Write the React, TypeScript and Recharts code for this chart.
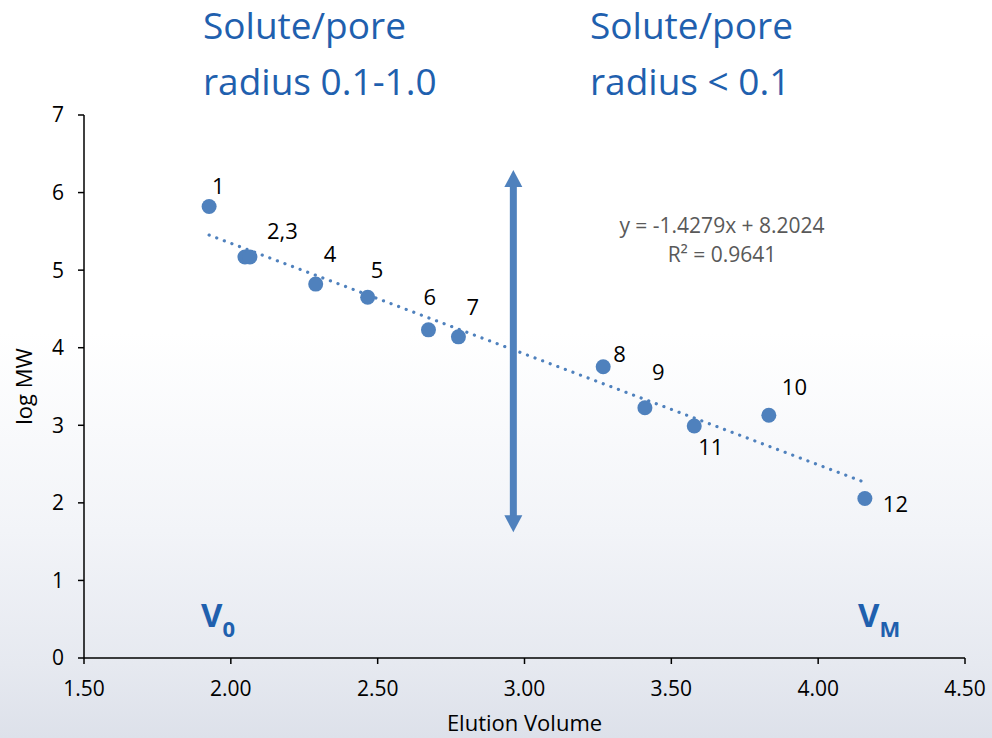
import React from 'react';
import { ScatterChart, Scatter, XAxis, YAxis, ReferenceLine } from 'recharts';

// ---- data ----
const elutionVolume = [1.926, 2.048, 2.065, 2.289, 2.466, 2.673, 2.775, 3.268, 3.41, 3.832, 3.578, 4.159];
const logMW = [5.82, 5.17, 5.17, 4.82, 4.65, 4.23, 4.14, 3.755, 3.226, 3.13, 2.99, 2.057];
const pointLabels = ['1', '', '2,3', '4', '5', '6', '7', '8', '9', '10', '11', '12'];
const xTicks = [1.5, 2.0, 2.5, 3.0, 3.5, 4.0, 4.5];
const yTicks = [0, 1, 2, 3, 4, 5, 6, 7];
const trendSlope = -1.4279;
const trendIntercept = 8.2024;
const trendR2 = 0.9641;
const arrowX = 2.962;
const arrowYBottom = 1.62;
const arrowYTop = 6.29;

// ---- layout config (not data) ----
const labelOffsets: Record<string, [number, number]> = {
  '1': [3, -13],
  '2,3': [17, -18],
  '4': [8, -22],
  '5': [3, -19],
  '6': [-5, -25],
  '7': [8, -22],
  '8': [10, -5],
  '9': [7, -28],
  '10': [13, -20],
  '11': [4, 29],
  '12': [18, 14],
};

const FONT = '"Open Sans", "Noto Sans", sans-serif';
const BLUE = '#4f81bd';
const TITLE_BLUE = '#1f60ae';

const points = elutionVolume.map((x, i) => ({ x, y: logMW[i], label: pointLabels[i] }));
const xMin = Math.min(...elutionVolume);
const xMax = Math.max(...elutionVolume);
const trendSegment = [
  { x: xMin, y: trendSlope * xMin + trendIntercept },
  { x: xMax, y: trendSlope * xMax + trendIntercept },
];

const PointShape = (props: any) => {
  const { cx, cy, payload } = props;
  const lab = payload?.label;
  const off = lab ? labelOffsets[lab] : null;
  return (
    <g>
      <circle cx={cx} cy={cy} r={7.5} fill={BLUE} />
      {lab && off ? (
        <text x={cx + off[0]} y={cy + off[1]} fontSize={22} fontFamily={FONT} fill="#000">
          {lab}
        </text>
      ) : null}
    </g>
  );
};

const ArrowShape = (props: any) => {
  const { x1, y1, x2, y2 } = props;
  const x = x1;
  const top = Math.min(y1, y2);
  const bot = Math.max(y1, y2);
  const head = 17;
  const half = 9;
  return (
    <g>
      <line x1={x} y1={top + head - 1} x2={x} y2={bot - head + 1} stroke={BLUE} strokeWidth={7} />
      <polygon points={`${x},${top} ${x - half},${top + head} ${x + half},${top + head}`} fill={BLUE} />
      <polygon points={`${x},${bot} ${x - half},${bot - head} ${x + half},${bot - head}`} fill={BLUE} />
    </g>
  );
};

const YLabel = (props: any) => {
  const vb = props.viewBox || {};
  const cy = (vb.y ?? 0) + (vb.height ?? 0) / 2;
  const cx = 32;
  return (
    <text x={cx} y={cy} transform={`rotate(-90, ${cx}, ${cy})`} textAnchor="middle" fontSize={22} fontFamily={FONT} fill="#000">
      log MW
    </text>
  );
};

export default function App() {
  return (
    <div
      style={{
        position: 'fixed',
        left: 0,
        top: 0,
        width: 992,
        height: 738,
        overflow: 'hidden',
        background: 'linear-gradient(to bottom, #ffffff 0%, #ffffff 45%, #f2f4f8 72%, #e6e9f0 90%, #dde1ea 100%)',
        fontFamily: FONT,
      }}
    >
      <ScatterChart width={992} height={738} margin={{ top: 115, right: 27, bottom: 0, left: 0 }}>
        <XAxis
          type="number"
          dataKey="x"
          domain={[1.5, 4.5]}
          ticks={xTicks}
          tickFormatter={(v: number) => v.toFixed(2)}
          tickSize={6}
          tickMargin={17}
          height={80}
          axisLine={{ stroke: '#000', strokeWidth: 1.5 }}
          tickLine={{ stroke: '#000', strokeWidth: 1.5 }}
          tick={{ fontSize: 21, fontFamily: FONT, fill: '#000' }}
          allowDataOverflow
          label={{ value: 'Elution Volume', position: 'insideBottom', offset: 7, fontSize: 22, fontFamily: FONT, fill: '#000' }}
        />
        <YAxis
          type="number"
          dataKey="y"
          domain={[0, 7]}
          ticks={yTicks}
          tickSize={6}
          tickMargin={14}
          width={84}
          axisLine={{ stroke: '#000', strokeWidth: 1.5 }}
          tickLine={{ stroke: '#000', strokeWidth: 1.5 }}
          tick={{ fontSize: 21, fontFamily: FONT, fill: '#000' }}
          allowDataOverflow
          label={<YLabel />}
        />
        <ReferenceLine
          segment={trendSegment}
          stroke={BLUE}
          strokeWidth={3.2}
          strokeDasharray="0.1 8"
          strokeLinecap="round"
          ifOverflow="visible"
        />
        <ReferenceLine
          segment={[
            { x: arrowX, y: arrowYBottom },
            { x: arrowX, y: arrowYTop },
          ]}
          stroke={BLUE}
          ifOverflow="visible"
          shape={ArrowShape}
        />
        <Scatter data={points} fill={BLUE} isAnimationActive={false} shape={PointShape} />
      </ScatterChart>
      <svg
        width={992}
        height={738}
        style={{ position: 'absolute', left: 0, top: 0, pointerEvents: 'none' }}
      >
        <g fontFamily={FONT} fill={TITLE_BLUE} fontSize={37}>
          <text x={203} y={39}>Solute/pore</text>
          <text x={203} y={95}>radius 0.1-1.0</text>
          <text x={590} y={39}>Solute/pore</text>
          <text x={590} y={95}>radius &lt; 0.1</text>
        </g>
        <g fontFamily={FONT} fill="#595959" fontSize={21} textAnchor="middle">
          <text x={722} y={233}>{`y = ${trendSlope}x + ${trendIntercept}`}</text>
          <text x={722} y={262}>{`R² = ${trendR2}`}</text>
        </g>
        <g fontFamily={FONT} fill={TITLE_BLUE} fontWeight="bold">
          <text x={201} y={627} fontSize={33}>
            V<tspan dy={10} fontSize={22}>0</tspan>
          </text>
          <text x={858} y={627} fontSize={33}>
            V<tspan dy={10} fontSize={22}>M</tspan>
          </text>
        </g>
      </svg>
    </div>
  );
}
